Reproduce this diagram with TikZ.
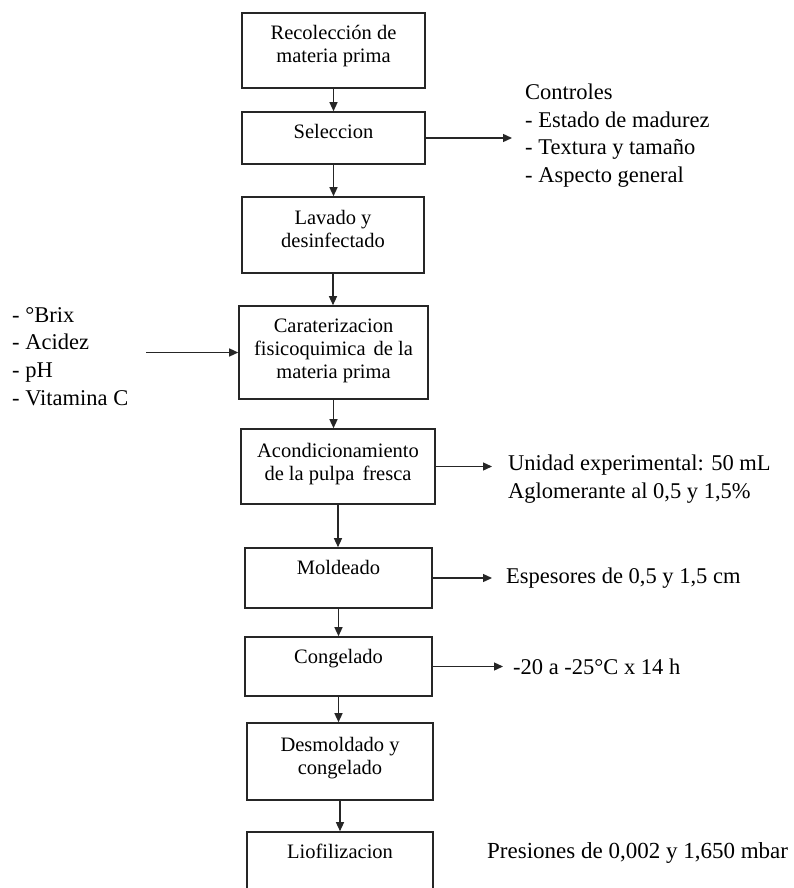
\documentclass[tikz,border=0pt]{standalone}
\usepackage{fontspec}
\setmainfont{Liberation Serif}
\usetikzlibrary{arrows.meta}
\tikzset{
  box/.style={draw=black!85, line width=1.6pt, inner sep=0pt},
  boxtext/.style={anchor=north, inner sep=0pt, align=center, font=\fontsize{20.5}{23}\selectfont},
  sidetext/.style={anchor=west, inner sep=0pt, align=left, font=\fontsize{22.5}{27.7}\selectfont},
  flow/.style={line width=1.3pt, draw=black!85, -{Triangle[length=9pt,width=8pt]}},
}
\begin{document}
\begin{tikzpicture}[x=1pt,y=-1pt]
\clip (0,0) rectangle (794,888);
\fill[white] (0,0) rectangle (794,888);
% boxes
\node[box, minimum width=183pt, minimum height=75pt] (b1) at (333.5,50.5) {};
\node[box, minimum width=183pt, minimum height=52pt] (b2) at (333.5,138) {};
\node[box, minimum width=182pt, minimum height=76pt] (b3) at (333,235) {};
\node[box, minimum width=189pt, minimum height=93pt] (b4) at (333.5,352.5) {};
\node[box, minimum width=194pt, minimum height=75pt] (b5) at (338,466.5) {};
\node[box, minimum width=187pt, minimum height=60pt] (b6) at (338.5,578) {};
\node[box, minimum width=187pt, minimum height=59pt] (b7) at (338.5,666.5) {};
\node[box, minimum width=186pt, minimum height=77pt] (b8) at (340,761.5) {};
\node[box, minimum width=186pt, minimum height=88pt] (b9) at (340,876) {};
% box texts
\node[boxtext] (t1) at ([yshift=-13pt]b1.north) {Recolección de\\materia prima};
\node[boxtext] (t2) at ([yshift=-13pt]b2.north) {Seleccion};
\node[boxtext] (t3) at ([yshift=-14pt]b3.north) {Lavado y\\desinfectado};
\node[boxtext] (t4) at ([yshift=-14pt]b4.north) {Caraterizacion\\fisicoquimica\hspace{3pt} de la\\materia prima};
\node[boxtext] (t5) at ([yshift=-15pt]b5.north) {Acondicionamiento\\de la pulpa\hspace{3pt} fresca};
\node[boxtext] (t6) at ([yshift=-13pt]b6.north) {Moldeado};
\node[boxtext] (t7) at ([yshift=-13pt]b7.north) {Congelado};
\node[boxtext] (t8) at ([yshift=-15pt]b8.north) {Desmoldado y\\congelado};
\node[boxtext] (t9) at ([yshift=-13pt]b9.north) {Liofilizacion};
% vertical flow
\draw[flow] (b1.south) -- (b1.south |- b2.north);
\draw[flow] (b2.south) -- (b2.south |- b3.north);
\draw[flow] (b3.south) -- (b3.south |- b4.north);
\draw[flow] (b4.south) -- (b4.south |- b5.north);
\draw[flow] (b5.south) -- (b5.south |- b6.north);
\draw[flow] (b6.south) -- (b6.south |- b7.north);
\draw[flow] (b7.south) -- (b7.south |- b8.north);
\draw[flow] (b8.south) -- (b8.south |- b9.north);
% side items
\coordinate (cR) at (512,138);
\draw[flow] (b2.east) -- (cR);
\node[sidetext] (ctrl) at (525,135.5) {Controles\\- Estado de madurez\\- Textura y tamaño\\- Aspecto general};
\node[sidetext] (params) at (12,356.5) {- °Brix\\- Acidez\\- pH\\- Vitamina C};
\coordinate (cL) at (146,352.5);
\draw[flow] (cL) -- (b4.west);
\coordinate (c5) at (492,466.5);
\draw[flow] (b5.east) -- (c5);
\node[sidetext] (unid) at (508,479) {Unidad experimental: 50 mL\\Aglomerante al 0,5 y 1,5\%};
\coordinate (c6) at (492,578);
\draw[flow] (b6.east) -- (c6);
\node[sidetext] (esp) at (506,578) {Espesores de 0,5 y 1,5 cm};
\coordinate (c7) at (503,666.5);
\draw[flow] (b7.east) -- (c7);
\node[sidetext] (temp) at (513,666.5) {-20 a -25°C x 14 h};
\node[sidetext, font=\fontsize{23}{28}\selectfont] (pres) at (487,853) {Presiones de 0,002 y 1,650 mbar};
\end{tikzpicture}
\end{document}
